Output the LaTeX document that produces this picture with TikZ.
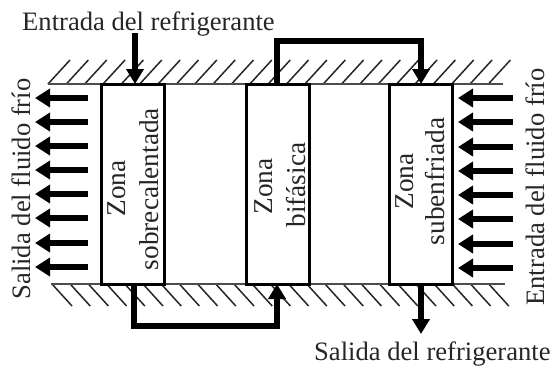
\documentclass[tikz,border=0pt]{standalone}
\usepackage{fontspec}
\setmainfont{Liberation Serif}
\usetikzlibrary{arrows.meta}
\definecolor{ink}{gray}{0.15}
\tikzset{
  x=1pt,y=-1pt,
  wall/.style={draw=black!70,line width=2.4pt},
  hatchline/.style={draw=black!85,line width=1.5pt},
  zonebox/.style={draw=black,line width=3pt,minimum width=63pt,minimum height=200pt,inner sep=0pt,fill=white},
  zonetext/.style={inner sep=0pt,rotate=90,anchor=base,text=ink,font=\fontsize{27.3}{32}\selectfont},
  pipe/.style={draw=black,line width=5.2pt,line cap=butt,line join=miter},
  pipetip/.style={pipe,-{Triangle[width=17pt,length=15pt]}},
  fluid/.style={draw=black,line width=5.4pt,-{Triangle[width=18pt,length=15pt]}},
  lab/.style={inner sep=0pt,text=ink,font=\fontsize{26.6}{30}\selectfont},
}
\begin{document}
\begin{tikzpicture}
\useasboundingbox (0,0) rectangle (556,368);
% hatching
\foreach \i in {0,...,24}{\draw[hatchline] ({48+18.35*\i},84) -- ({70+18.35*\i},60);}
\foreach \i in {0,...,24}{\draw[hatchline] ({52+18.2*\i},284) -- ({72+18.2*\i},306);}
% walls
\draw[wall] (48,84) -- (503,84);
\draw[wall] (51,284) -- (505,284);
% zones
\node[zonebox] (z1) at (132.5,184) {};
\node[zonebox] (z2) at (277.5,184) {};
\node[zonebox] (z3) at (420.5,184) {};
\node[zonetext] (z1a) at (125,188.5) {Zona};
\node[zonetext] (z1b) at (158,189) {sobrecalentada};
\node[zonetext] (z2a) at (272,186.5) {Zona};
\node[zonetext] (z2b) at (305,185) {bifásica};
\node[zonetext] (z3a) at (413,181.5) {Zona};
\node[zonetext] (z3b) at (444.5,181.5) {subenfriada};
% labels
\node[lab,anchor=base west] (inl) at (22,30) {Entrada del refrigerante};
\node[lab,anchor=base west] (outl) at (314,360) {Salida del refrigerante};
\node[lab,rotate=90,anchor=base] (fl) at (30,189) {Salida del fluido frío};
\node[lab,rotate=90,anchor=base] (fr) at (544,187) {Entrada del fluido frío};
% refrigerant path
\coordinate (a0) at (135,33);
\coordinate (a1) at (135,84);
\draw[pipetip] (a0) -- (a1);
\coordinate (t0) at (277,84);
\coordinate (t1) at (421,84);
\draw[pipetip] (t0) -- (277,41) -- (421,41) -- (t1);
\coordinate (b0) at (134,284);
\coordinate (b1) at (277,284);
\draw[pipetip] (b0) -- (134,326) -- (277,326) -- (b1);
\coordinate (o0) at (421,284);
\coordinate (o1) at (421,334);
\draw[pipetip] (o0) -- (o1);
% fluid arrows
\foreach \y in {98,122,146,170,194,218,243,267}{
  \coordinate (ls) at (88,\y); \coordinate (le) at (35,\y);
  \draw[fluid] (ls) -- (le);}
\foreach \y in {98,122,147,171,195,219,244,268}{
  \coordinate (rs) at (513,\y); \coordinate (re) at (458,\y);
  \draw[fluid] (rs) -- (re);}
\end{tikzpicture}
\end{document}
